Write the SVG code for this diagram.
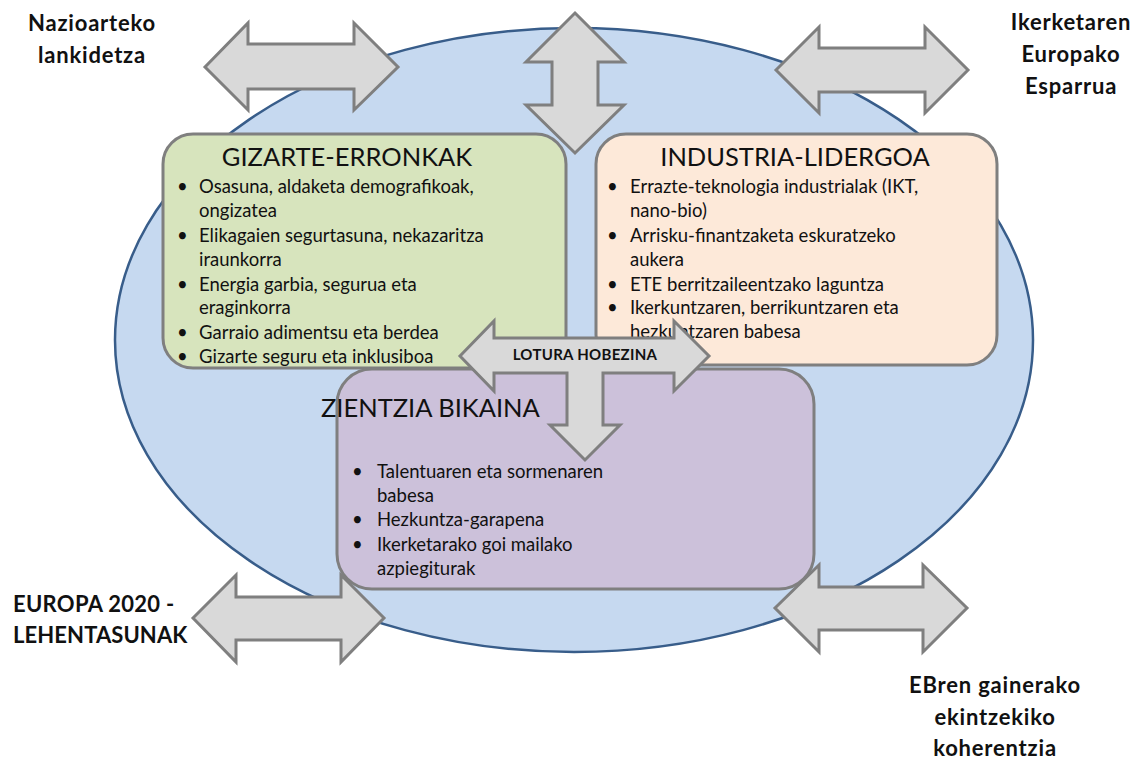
<svg xmlns="http://www.w3.org/2000/svg" width="1142" height="760" viewBox="0 0 1142 760">
<style>
text{font-family:Lato,"Liberation Sans",sans-serif;fill:#111}
.box{stroke:#7f7f7f;stroke-width:3}
.arr{fill:#d9d9d9;stroke:#7f7f7f;stroke-width:3;stroke-linejoin:miter}
.title{font-size:25.5px}
.b{font-size:18.5px}
.lbl{font-size:22px;font-weight:bold;text-anchor:middle;letter-spacing:0.8px}
.lotura{font-size:15px;font-weight:bold;text-anchor:middle;letter-spacing:0.3px}
</style>
<rect width="1142" height="760" fill="#fff"/>
<g id="ellipse">
<ellipse cx="574" cy="340" rx="459" ry="312" fill="#c6d9f0" stroke="#385d8a" stroke-width="2.5"/>
</g>
<g id="gizarte">
<rect class="box" x="163" y="134" width="403" height="234" rx="30" fill="#d7e4bd"/>
<text class="title" x="347" y="166" text-anchor="middle">GIZARTE-ERRONKAK</text>
<g class="b">
<text x="177" y="193">•</text><text x="199" y="193">Osasuna, aldaketa demografikoak,</text>
<text x="199" y="217">ongizatea</text>
<text x="177" y="242">•</text><text x="199" y="242">Elikagaien segurtasuna, nekazaritza</text>
<text x="199" y="266">iraunkorra</text>
<text x="177" y="291">•</text><text x="199" y="291">Energia garbia, segurua eta</text>
<text x="199" y="314">eraginkorra</text>
<text x="177" y="339">•</text><text x="199" y="339">Garraio adimentsu eta berdea</text>
<text x="177" y="363">•</text><text x="199" y="363">Gizarte seguru eta inklusiboa</text>
</g>
</g>
<g id="industria">
<rect class="box" x="596" y="134" width="401" height="231" rx="30" fill="#fde9d9"/>
<text class="title" x="795" y="166" text-anchor="middle">INDUSTRIA-LIDERGOA</text>
<g class="b">
<text x="607" y="193">•</text><text x="630" y="193">Errazte-teknologia industrialak (IKT,</text>
<text x="630" y="217">nano-bio)</text>
<text x="607" y="242">•</text><text x="630" y="242">Arrisku-finantzaketa eskuratzeko</text>
<text x="630" y="266">aukera</text>
<text x="607" y="291">•</text><text x="630" y="291">ETE berritzaileentzako laguntza</text>
<text x="607" y="314">•</text><text x="630" y="314">Ikerkuntzaren, berrikuntzaren eta</text>
<text x="630" y="338">hezkuntzaren babesa</text>
</g>
</g>
<g id="zientzia">
<rect class="box" x="337" y="369" width="477" height="220" rx="35" fill="#ccc1da"/>
<text class="title" x="321" y="417">ZIENTZIA BIKAINA</text>
<g class="b">
<text x="352" y="478">•</text><text x="377" y="478">Talentuaren eta sormenaren</text>
<text x="377" y="502">babesa</text>
<text x="352" y="526">•</text><text x="377" y="526">Hezkuntza-garapena</text>
<text x="352" y="551">•</text><text x="377" y="551">Ikerketarako goi mailako</text>
<text x="377" y="575">azpiegiturak</text>
</g>
</g>
<g id="connectors">
<polygon class="arr" points="205,67 248,23 248,44 354,44 354,23 398,67 354,110 354,89 248,89 248,110"/>
<polygon class="arr" points="776,70 819,27 819,48 925,48 925,27 968,70 925,113 925,92 819,92 819,113"/>
<polygon class="arr" points="575,13 624,62 598,62 598,105 624,105 575,153 526,105 552,105 552,62 526,62"/>
<polygon class="arr" points="193,618 236,575 236,597 341,597 341,575 384,618 341,662 341,640 236,640 236,662"/>
<polygon class="arr" points="775,608 819,565 819,587 923,587 923,565 967,608 923,652 923,630 819,630 819,652"/>
<polygon class="arr" points="460,356 494,321 494,338 674,338 674,321 709,356 674,391 674,373 603,373 603,425 620,425 585,460 550,425 567,425 567,373 494,373 494,391"/>
<text class="lotura" x="585" y="360">LOTURA HOBEZINA</text>
</g>
<g id="label-nazioarteko">
<text class="lbl" x="92" y="31">Nazioarteko</text>
<text class="lbl" x="92" y="63">lankidetza</text>
</g>
<g id="label-ikerketaren">
<text class="lbl" x="1071" y="30">Ikerketaren</text>
<text class="lbl" x="1071" y="62">Europako</text>
<text class="lbl" x="1071" y="94">Esparrua</text>
</g>
<g id="label-europa">
<text class="lbl" x="13" y="612" style="text-anchor:start;letter-spacing:0.3px">EUROPA 2020 -</text>
<text class="lbl" x="13" y="643" style="text-anchor:start;letter-spacing:0.1px">LEHENTASUNAK</text>
</g>
<g id="label-ebren">
<text class="lbl" x="995" y="693">EBren gainerako</text>
<text class="lbl" x="995" y="725">ekintzekiko</text>
<text class="lbl" x="995" y="756">koherentzia</text>
</g>
</svg>
